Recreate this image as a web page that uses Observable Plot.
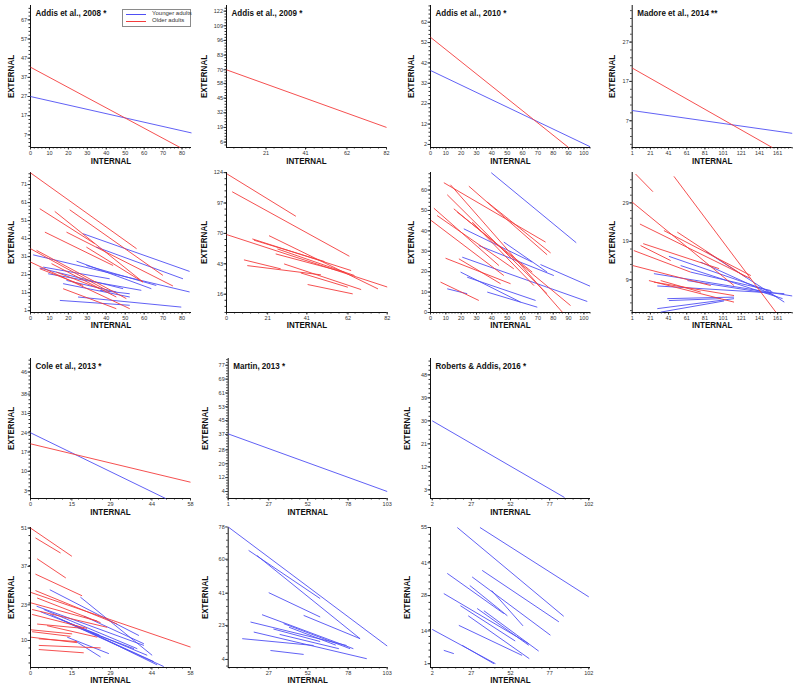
<!DOCTYPE html>
<html><head><meta charset="utf-8">
<script src="https://cdn.jsdelivr.net/npm/d3@7"></script>
<script src="https://cdn.jsdelivr.net/npm/@observablehq/plot@0.6"></script>
<style>
body{margin:0;background:#fff;}
#wrap{position:relative;width:800px;height:691px;overflow:hidden;background:#fff;}
#wrap svg{position:absolute;}
#legend{position:absolute;left:122px;top:9px;width:67px;height:16px;border:1px solid #8a8a8a;background:#fff;font-family:"Liberation Sans",Arial,sans-serif;font-size:6px;color:#333;}
#legend .row{position:absolute;left:3px;height:7px;width:64px;}
#legend .ln{position:absolute;left:0;top:3px;width:20px;height:0;border-top:1px solid;}
#legend .tx{position:absolute;left:26px;top:-1px;white-space:nowrap;}
</style></head><body><div id="wrap"></div>
<script>
// ---------- data ----------
const BLUE = "#4f4ff4", RED = "#f43c3c";

// Row 1: group regressions
const A08G_X = [0,10,20,30,40,50,60,70,80];
const A08G_Y = [7,17,27,37,47,57,67];
const A08G_YOUNG = [[0,27,85,8]];
const A08G_OLD = [[0,42.3,79,0.4]];

const A09G_X = [21,41,62,82];
const A09G_Y = [6,19,32,45,58,70,83,96,109,122];
const A09G_YOUNG = [];
const A09G_OLD = [[1,70,82,19]];

const A10G_X = [0,10,20,30,40,50,60,70,80,90,100];
const A10G_Y = [2,12,22,32,42,52,62];
const A10G_YOUNG = [[0,38.3,104,0.9]];
const A10G_OLD = [[0,54.6,90,0.5]];

const MAD_X = [1,21,41,61,81,101,121,141,161];
const MADG_Y = [7,17,27];
const MADG_YOUNG = [[1,9.6,177,3.8]];
const MADG_OLD = [[1,20.4,155,0.2]];

// Row 2: individual participants
const A08I_Y = [1,11,21,31,41,51,61,71];
const A08I_YOUNG = [[27.8,43.7,84,22.8],[34.8,36.3,80.5,18.7],[1.4,32,84,11.4],[4.9,24.7,48.9,13.2],[9.3,21.5,58.5,12.3],[24.3,28.5,63.8,13.2],[17.2,16,52.4,8.6],[15.5,6.7,52.4,4],[25.1,8.6,79.6,3],[29.5,26.1,66.4,15],[36.6,12.3,52.4,10.4],[19,17.8,45.3,11.4],[6.7,25.2,41.8,18.7]];
const A08I_OLD = [[0,77.5,56,35.4],[4.9,57.6,33.9,38.2],[12.8,56.1,59.4,16.9],[20.7,57,69.9,20.6],[7.6,44.6,43.6,26.1],[0,35.4,41.8,11.4],[0,28,52.4,2.1],[3.2,34.5,50.6,7.7],[11.1,27.1,45.3,8.6],[4.9,24.3,27.8,15],[17.2,13.2,45.3,2.1],[29.5,36.3,59.4,16.9],[13.7,22.4,36.6,13.2],[19,44.6,75.2,14.7]];

const A09I_X = [0,21,41,62,82];
const A09I_Y = [16,43,70,97,124];
const A09I_YOUNG = [];
const A09I_OLD = [[0.3,122.8,35.4,85.2],[2.9,107,62.7,49.7],[0,69,82,22.4],[13.2,65.1,63.6,37],[21.7,68,77.3,20.7],[25.1,51.8,60.2,35.5],[8.9,46.5,27.7,38.5],[10.6,41.4,48.2,33.2],[29.4,42.9,68.7,20.1],[37.9,34.9,61.9,22.2],[41.4,24.6,64.4,16.3],[26,56.2,65.3,32.6],[14,64,50,45]];

const A10I_Y = [0,10,20,30,40,50,60];
const A10I_YOUNG = [[39.6,68.5,95,34.2],[21.7,41,66.3,24.7],[31.5,32.8,80.4,18.1],[20.7,27.1,102.2,5.4],[19.6,19.8,58.7,5.1],[23.9,17.3,68.5,5.9],[37,10,69.6,2.6],[71.7,23.5,104,12.9],[10.9,11.6,23.9,9.2],[47.8,34.5,76,19.8]];
const A10I_OLD = [[8.7,63.6,75,34.5],[13,62.6,85.9,0.2],[25,61.9,76,28.3],[2.2,51.1,44.6,23],[0.4,45.1,47.8,18.1],[10.9,57.7,76,9.2],[4.3,47.5,54.3,21.4],[15.2,50.8,91.3,3.4],[37,54.1,78.3,29.2],[9.8,26.6,52.2,14.1],[6.5,14.9,31.5,5.9],[18.5,26.3,45.7,14.1],[17.4,49.2,66.3,19.8],[27.2,44.3,67.4,13.2]];

const MADI_Y = [9,19,29];
const MADI_YOUNG = [[81.9,16.4,168.3,3.2],[41.4,15.1,155.4,5.8],[54.3,12.7,166.4,4.1],[24.9,10.6,177,4.8],[28.6,7.4,168.3,5.4],[39.6,4.1,113,4.5],[28.6,1.5,113,4.1],[32.3,0.6,102,3.5],[41.4,3.6,98.4,4.1],[65.3,11,153.5,6.2],[61.7,8.8,153.5,5.4],[76.4,13.6,161,4.5]];
const MADI_OLD = [[4.7,36.5,23.8,31.9],[46.9,35.9,159,0.6],[1,29.2,113,7.5],[9.5,23.5,131.5,9.3],[13.1,18.4,96.6,11.9],[2.8,16.6,65.3,11],[1.7,12.7,87.4,7.5],[19.4,8.8,113,3.2],[35.9,21.8,131.5,10.1],[50.6,21.4,126,9.7],[24.9,8.4,113,4.9],[10.2,17.9,43.3,14],[32.3,8.8,76.4,5.8]];

// Row 3: group regressions
const COLE_X = [0,15,29,44,58];
const COLEG_Y = [3,10,17,24,31,38,46];
const COLEG_YOUNG = [[0,24,49,0.2]];
const COLEG_OLD = [[0,20,58,6.1]];

const MARG_X = [1,27,52,78,103];
const MARG_Y = [4,12,20,28,37,45,53,61,69,77];
const MARG_YOUNG = [[1,37.3,103,4]];
const MARG_OLD = [];

const ROB_X = [2,27,52,77,102];
const ROBG_Y = [3,12,21,30,39,48];
const ROBG_YOUNG = [[2,30,86.5,0]];
const ROBG_OLD = [];

// Row 4: individual participants
const COLEI_Y = [10,23,37,51];
const COLEI_YOUNG = [[7,28.5,39.3,11.8],[18.1,25.8,44.1,4.6],[2.2,22.5,41.1,8.2],[4.8,21.3,38.7,7],[7.2,19.5,44.7,2.3],[10.9,17.7,42.3,4.6],[13.3,16.5,48.3,0.5],[16.9,14.8,37.5,7],[13.3,11.2,28.4,5.2],[16.9,9.4,25.4,4],[19.3,18.9,41.1,8.8],[21.7,13,45.9,1.1],[3.6,20.5,25,12]];
const COLEI_OLD = [[0,51,15,40.7],[1.8,47.4,10.9,41.9],[2.4,39.8,12.8,32.8],[1.8,34.2,18.7,26.3],[0.2,27.5,58,7.6],[1.8,28.2,31.4,16],[2.4,25.5,25.4,16.5],[0.2,23.7,24.2,17.1],[0.6,21.3,27.8,14.8],[0.6,19.5,20.5,14.4],[2.4,16,19.3,14.4],[0.2,13.9,15.1,12.4],[0.6,13.2,14.5,11.5],[0.2,11.2,16.9,9.2],[3,8.2,25.4,7.3],[3,6.7,19.3,5.5],[3,10.6,16.9,9.6],[6,15.4,24.2,11.2]];

const MARI_X = [27,52,78,103];
const MARI_Y = [4,23,41,60,78];
const MARI_YOUNG = [[1,78,103,11.5],[14.1,64.9,60,38],[19.5,62,85.6,15.6],[27,41.3,60,27.7],[49.4,28.6,85.6,15.6],[22.7,29,81.3,10],[15.3,24.9,77,11.8],[17.4,19.3,89.9,4.4],[10,15.6,55.8,11.8],[28.1,9,49.4,6.8],[36.6,24,79.2,10],[40,22,70,12],[34,18,72,10],[30,21,60,14]];
const MARI_OLD = [];

const ROBI_Y = [1,14,28,41,55];
const ROBI_YOUNG = [[18,55,86,19.8],[32.5,55,102,27.5],[11.6,36.8,47.7,20.9],[9.4,28.8,63.7,8.9],[2,14.6,42.4,1],[27.5,35.4,77.5,12.3],[33.9,38,82.9,17.6],[19,16.2,59.4,4.3],[21.1,8.3,41.4,1],[9.4,6.3,15.8,5],[30.7,22.9,63.7,8.3],[20,24,55,10],[26,32,50,20],[40,30,60,16],[25,20,64,3],[35,22,70,6]];
const ROBI_OLD = [];

const TITLES = ["Addis et al., 2008 *","Addis et al., 2009 *","Addis et al., 2010 *","Madore et al., 2014 **","Cole et al., 2013 *","Martin, 2013 *","Roberts & Addis, 2016 *"];

// ---------- layout ----------
const ROWS = [
  {top:0,   h:165, mt:5,  mb:18, xlab:14},
  {top:165, h:170, mt:7,  mb:23, xlab:13},
  {top:335, h:185, mt:23, mb:22, xlab:13.5},
  {top:520, h:171, mt:7,  mb:24, xlab:12.5}
];
const panels = [
  {row:0,col:0,title:TITLES[0],xd:[0,85],yd:[0.4,74.5],xt:A08G_X,yt:A08G_Y,young:A08G_YOUNG,old:A08G_OLD,ml:30,mr:9,yl:-19},
  {row:0,col:1,title:TITLES[1],xd:[1,82],yd:[1.2,127],xt:A09G_X,yt:A09G_Y,young:A09G_YOUNG,old:A09G_OLD,ml:26,mr:14,yl:-22},
  {row:0,col:2,title:TITLES[2],xd:[0,104.3],yd:[0.5,70.2],xt:A10G_X,yt:A10G_Y,young:A10G_YOUNG,old:A10G_OLD,ml:30,mr:10,yl:-19},
  {row:0,col:3,title:TITLES[3],xd:[1,177],yd:[0.2,36.3],xt:MAD_X,yt:MADG_Y,young:MADG_YOUNG,old:MADG_OLD,ml:31.7,mr:8.3,yl:-20},
  {row:1,col:0,xd:[0,85],yd:[0,77.7],xt:A08G_X,yt:A08I_Y,young:A08I_YOUNG,old:A08I_OLD,ml:30,mr:9,yl:-19},
  {row:1,col:1,xd:[0,82],yd:[-0.25,124.1],xt:A09I_X,yt:A09I_Y,young:A09I_YOUNG,old:A09I_OLD,ml:26,mr:13.3,yl:-22},
  {row:1,col:2,xd:[0,104.3],yd:[0,68.6],xt:A10G_X,yt:A10I_Y,young:A10I_YOUNG,old:A10I_OLD,ml:30,mr:10,yl:-19},
  {row:1,col:3,xd:[1,177],yd:[0.5,36.9],xt:MAD_X,yt:MADI_Y,young:MADI_YOUNG,old:MADI_OLD,ml:31.7,mr:8.3,yl:-20},
  {row:2,col:0,title:TITLES[4],xd:[0,58],yd:[0.2,50.9],xt:COLE_X,yt:COLEG_Y,young:COLEG_YOUNG,old:COLEG_OLD,ml:30,mr:10,yl:-19},
  {row:2,col:1,title:TITLES[5],xd:[1,103],yd:[-0.05,80.9],xt:MARG_X,yt:MARG_Y,young:MARG_YOUNG,old:MARG_OLD,ml:27.7,mr:13.3,yl:-22.7},
  {row:2,col:2,title:TITLES[6],xd:[0.9,103.1],yd:[-0.4,54.4],xt:ROB_X,yt:ROBG_Y,young:ROBG_YOUNG,old:ROBG_OLD,ml:30,mr:10,yl:-23.3},
  {row:3,col:0,xd:[0,58],yd:[0.15,51.2],xt:COLE_X,yt:COLEI_Y,young:COLEI_YOUNG,old:COLEI_OLD,ml:30,mr:10,yl:-19},
  {row:3,col:1,xd:[1,103],yd:[-0.5,77.7],xt:MARI_X,yt:MARI_Y,young:MARI_YOUNG,old:MARI_OLD,ml:27.7,mr:13.3,yl:-22.7},
  {row:3,col:2,xd:[0.9,103.1],yd:[-0.5,55],xt:ROB_X,yt:ROBI_Y,young:ROBI_YOUNG,old:ROBI_OLD,ml:30,mr:10,yl:-23.3}
];

function minorTicks(ticks, domain, n) {
  if (ticks.length < 2) return [];
  const step = (ticks[ticks.length - 1] - ticks[0]) / (ticks.length - 1) / n;
  let v = ticks[0];
  while (v - step >= domain[0] - 1e-9) v -= step;
  const out = [];
  for (; v <= domain[1] + 1e-9; v += step) out.push(v);
  return out;
}
const toSeg = s => ({x1: s[0], y1: s[1], x2: s[2], y2: s[3]});
const FONT = '"Liberation Sans", Arial, sans-serif';

const wrap = document.getElementById("wrap");
for (const p of panels) {
  const r = ROWS[p.row];
  const axisStyle = {color: "#333", label: null};
  const marks = [
    Plot.axisX({...axisStyle, ticks: minorTicks(p.xt, p.xd, 5), tickSize: 1.5, tickFormat: () => ""}),
    Plot.axisX({...axisStyle, ticks: p.xt, tickSize: 2.5, tickPadding: 1, fontSize: 5.5}),
    Plot.axisY({...axisStyle, ticks: minorTicks(p.yt, p.yd, 5), tickSize: 1.5, tickFormat: () => ""}),
    Plot.axisY({...axisStyle, ticks: p.yt, tickSize: 2.5, tickPadding: 1, fontSize: 5.5}),
    Plot.ruleX([p.xd[0]], {stroke: "#111", strokeWidth: 1}),
    Plot.ruleY([p.yd[0]], {stroke: "#111", strokeWidth: 1}),
    Plot.link(p.young.map(toSeg), {x1: "x1", y1: "y1", x2: "x2", y2: "y2", stroke: BLUE, strokeWidth: 0.9}),
    Plot.link(p.old.map(toSeg), {x1: "x1", y1: "y1", x2: "x2", y2: "y2", stroke: RED, strokeWidth: 0.9}),
    Plot.text(["INTERNAL"], {text: d => d, frameAnchor: "bottom", dy: r.xlab, lineAnchor: "middle", fontSize: 9.3, fontWeight: "bold", fill: "#111"}),
    Plot.text(["EXTERNAL"], {text: d => d, frameAnchor: "left", dx: p.yl, rotate: -90, lineAnchor: "middle", textAnchor: "middle", fontSize: 9.3, fontWeight: "bold", fill: "#111"})
  ];
  if (p.title) marks.push(Plot.text([p.title], {text: d => d, frameAnchor: "top-left", dx: 5, dy: 7, textAnchor: "start", lineAnchor: "middle", fontSize: 9.4, fontWeight: "bold", fill: "#111"}));
  const svg = Plot.plot({
    width: 200, height: r.h,
    marginTop: r.mt, marginBottom: r.mb, marginLeft: p.ml, marginRight: p.mr,
    style: {background: "transparent", fontFamily: FONT, overflow: "visible"},
    x: {domain: p.xd}, y: {domain: p.yd},
    marks
  });
  svg.style.left = (p.col * 200) + "px";
  svg.style.top = r.top + "px";
  wrap.appendChild(svg);
}

// legend (first panel)
const legend = document.createElement("div");
legend.id = "legend";
legend.innerHTML = `<div class="row" style="top:1px"><div class="ln" style="border-color:${BLUE}"></div><div class="tx">Younger adults</div></div>
<div class="row" style="top:8px"><div class="ln" style="border-color:${RED}"></div><div class="tx">Older adults</div></div>`;
wrap.appendChild(legend);

// narrow the bold labels to match the condensed face of the reference
const bold = new Set(["INTERNAL", "EXTERNAL", ...TITLES]);
wrap.querySelectorAll("svg text").forEach(t => {
  if (bold.has(t.textContent)) {
    const w = t.getComputedTextLength();
    t.setAttribute("textLength", (w * 0.86).toFixed(1));
    t.setAttribute("lengthAdjust", "spacingAndGlyphs");
  }
});
</script></body></html>
